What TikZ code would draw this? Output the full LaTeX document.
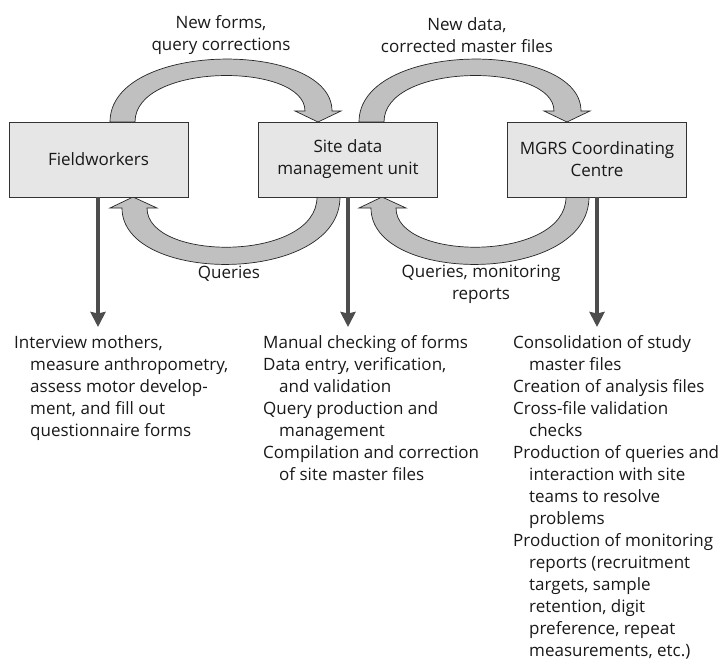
\documentclass[tikz,border=0pt]{standalone}
\usepackage{fontspec}
\setmainfont{Open Sans}
\usetikzlibrary{arrows.meta}
\definecolor{boxfill}{HTML}{E6E6E6}
\definecolor{arcfill}{HTML}{C0C0C0}
\definecolor{darkline}{HTML}{4D4D4D}
\begin{document}
\begin{tikzpicture}[x=1pt,y=-1pt,
  every node/.style={font=\fontsize{17}{22}\selectfont, text=black!90},
  unitbox/.style={draw=black!80, line width=0.8pt, fill=boxfill, minimum width=179pt, minimum height=75pt, align=center, inner sep=0pt},
  lbl/.style={align=center, inner sep=0pt},
  listtxt/.style={align=left, inner sep=0pt, anchor=north west},
  downarr/.style={draw=darkline, line width=3.6pt, -{Stealth[length=15pt,width=15pt,inset=1.5pt]}},
  arcstyle/.style={fill=arcfill, draw=black!85, line width=0.7pt, line join=miter},
  toparc/.pic={\path[arcstyle] (0,0) .. controls (0,-82) and (222,-82) .. (222,-11) -- (231,-11) -- (208,0) -- (185,-11) -- (195,-11) .. controls (195,-60) and (25,-60) .. (25,0) -- cycle;},
  botarc/.pic={\path[arcstyle] (0,0) .. controls (0,88) and (-218,88) .. (-218,11) -- (-230,11) -- (-207,0) -- (-183,11) -- (-193,11) .. controls (-193,65) and (-23,65) .. (-23,0) -- cycle;}
]
\useasboundingbox (0,0) rectangle (720,666);
% curved block arrows
\pic at (110,122) {toparc};
\pic at (359,122) {toparc};
\pic at (340,197) {botarc};
\pic at (589,197) {botarc};
% boxes
\node[unitbox] (fw) at (98.5,159.5) {Fieldworkers};
\node[unitbox] (site) at (348,159.5) {Site data\\management unit};
\node[unitbox] (mgrs) at (597,159.5) {MGRS Coordinating\\Centre};
% arc labels
\node[lbl] (l1) at (221,35) {New forms,\\query corrections};
\node[lbl] (l2) at (467,35) {New data,\\corrected master files};
\node[lbl] (l3) at (229,274) {Queries};
\node[lbl] (l4) at (481,284) {Queries, monitoring\\reports};
% down arrows
\coordinate (fwend) at (98,327);
\coordinate (siteend) at (348,327);
\coordinate (mgrsend) at (597,327);
\draw[downarr] (fw.south -| fwend) -- (fwend);
\draw[downarr] (site.south -| siteend) -- (siteend);
\draw[downarr] (mgrs.south -| mgrsend) -- (mgrsend);
% lists
\node[listtxt] (t1) at (14,335) {Interview mothers,\\\hspace*{16pt}measure anthropometry,\\\hspace*{16pt}assess motor develop-\\\hspace*{16pt}ment, and fill out\\\hspace*{16pt}questionnaire forms};
\node[listtxt] (t2) at (263,335) {Manual checking of forms\\Data entry, verification,\\\hspace*{16pt}and validation\\Query production and\\\hspace*{16pt}management\\Compilation and correction\\\hspace*{16pt}of site master files};
\node[listtxt] (t3) at (513,335) {Consolidation of study\\\hspace*{16pt}master files\\Creation of analysis files\\Cross-file validation\\\hspace*{16pt}checks\\Production of queries and\\\hspace*{16pt}interaction with site\\\hspace*{16pt}teams to resolve\\\hspace*{16pt}problems\\Production of monitoring\\\hspace*{16pt}reports (recruitment\\\hspace*{16pt}targets, sample\\\hspace*{16pt}retention, digit\\\hspace*{16pt}preference, repeat\\\hspace*{16pt}measurements, etc.)};
\end{tikzpicture}
\end{document}
